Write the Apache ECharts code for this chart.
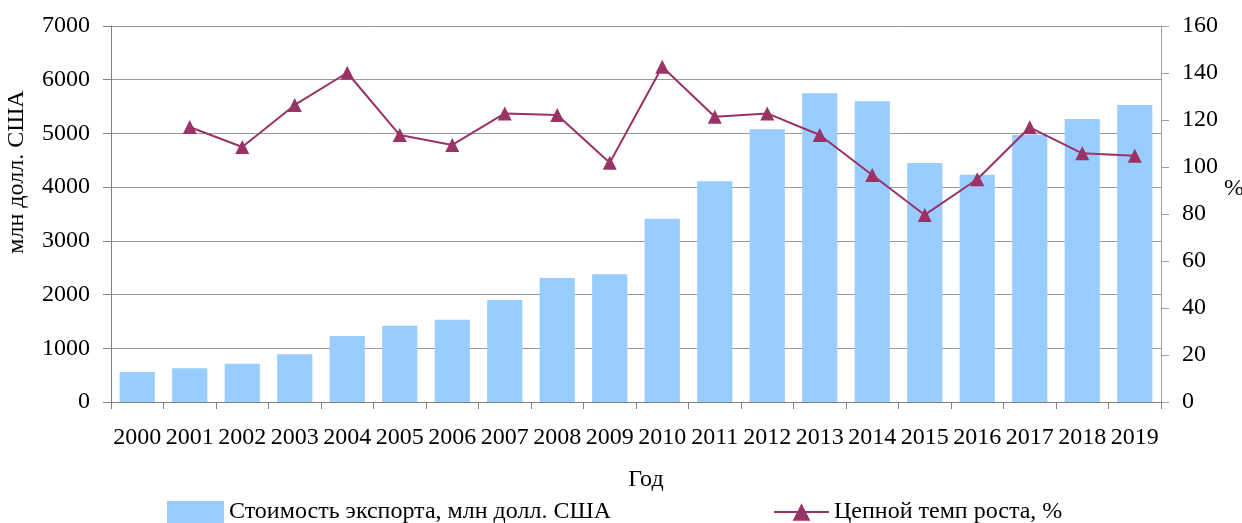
<!DOCTYPE html>
<html>
<head>
<meta charset="utf-8">
<script src="https://cdn.jsdelivr.net/npm/echarts@6/dist/echarts.min.js"></script>
<style>
html,body{margin:0;padding:0;background:#fff;}
#main{width:1242px;height:523px;}
</style>
</head>
<body>
<div id="main"></div>
<script>
const years = ['2000','2001','2002','2003','2004','2005','2006','2007','2008','2009','2010','2011','2012','2013','2014','2015','2016','2017','2018','2019'];
const exportValue = [560, 630, 710, 890, 1230, 1420, 1530, 1900, 2310, 2380, 3410, 4110, 5080, 5750, 5600, 4450, 4230, 4970, 5270, 5530];
const chainGrowth = [null, 117, 108.5, 126.4, 140.1, 113.6, 109.4, 122.8, 122.1, 101.8, 142.7, 121.4, 122.8, 113.6, 96.6, 79.6, 94.8, 116.9, 105.8, 104.8];
const leftTicks = {min: 0, max: 7000, interval: 1000};
const rightTicks = {min: 0, max: 160, interval: 20};

const FONT = 'Liberation Serif';
const FS = 24;
const chart = echarts.init(document.getElementById('main'));
chart.setOption({
  animation: false,
  textStyle: {fontFamily: FONT, color: '#000'},
  grid: {left: 111, right: 81, top: 26, bottom: 121, containLabel: false, outerBoundsMode: 'none'},
  legend: [
    {data: ['Стоимость экспорта, млн долл. США'], left: 167, top: 500, padding: 0, icon: 'rect', itemWidth: 57, itemHeight: 22,
     textStyle: {fontFamily: FONT, fontSize: FS, color: '#000'}},
    {data: ['Цепной темп роста, %'], left: 773, top: 500, padding: 0, itemWidth: 55, itemHeight: 22,
     textStyle: {fontFamily: FONT, fontSize: FS, color: '#000'}}
  ],
  xAxis: {
    type: 'category', data: years,
    name: 'Год', nameLocation: 'middle', nameGap: 66,
    nameTextStyle: {fontFamily: FONT, fontSize: FS, color: '#000', padding: [0,0,0,20]},
    axisLine: {lineStyle: {color: '#808080', width: 1}},
    axisTick: {show: true, length: 7, lineStyle: {color: '#808080'}},
    axisLabel: {margin: 24, fontFamily: FONT, fontSize: FS, color: '#000', interval: 0}
  },
  yAxis: [
    {
      type: 'value', min: leftTicks.min, max: leftTicks.max, interval: leftTicks.interval,
      name: 'млн долл. США', nameLocation: 'middle', nameGap: 82,
      nameTextStyle: {fontFamily: FONT, fontSize: FS, color: '#000', padding: [0,0,0,84]},
      axisLine: {show: true, lineStyle: {color: '#808080'}},
      axisTick: {show: true, length: 8, lineStyle: {color: '#808080'}},
      axisLabel: {margin: 21, fontFamily: FONT, fontSize: FS, color: '#000', formatter: v => String(v)},
      splitLine: {show: true, lineStyle: {color: '#9a9a9a', width: 1}}
    },
    {
      type: 'value', min: rightTicks.min, max: rightTicks.max, interval: rightTicks.interval,
      position: 'right',
      name: '',
      axisLine: {show: true, lineStyle: {color: '#a0a0a0'}},
      axisTick: {show: true, length: 8, lineStyle: {color: '#a0a0a0'}},
      axisLabel: {margin: 21, fontFamily: FONT, fontSize: FS, color: '#000', formatter: v => String(v)},
      splitLine: {show: false}
    }
  ],
  graphic: [
    {type: 'text', left: 1224, top: 177, style: {text: '%', font: FS + 'px "' + FONT + '"', fill: '#000'}}
  ],
  series: [
    {
      name: 'Стоимость экспорта, млн долл. США', type: 'bar', data: exportValue,
      yAxisIndex: 0, barCategoryGap: '33%',
      itemStyle: {color: '#99ccff'}
    },
    {
      name: 'Цепной темп роста, %', type: 'line', data: chainGrowth,
      yAxisIndex: 1, symbol: 'triangle', symbolSize: 14,
      lineStyle: {color: '#993366', width: 2},
      itemStyle: {color: '#993366'}
    }
  ]
});
</script>
</body>
</html>
